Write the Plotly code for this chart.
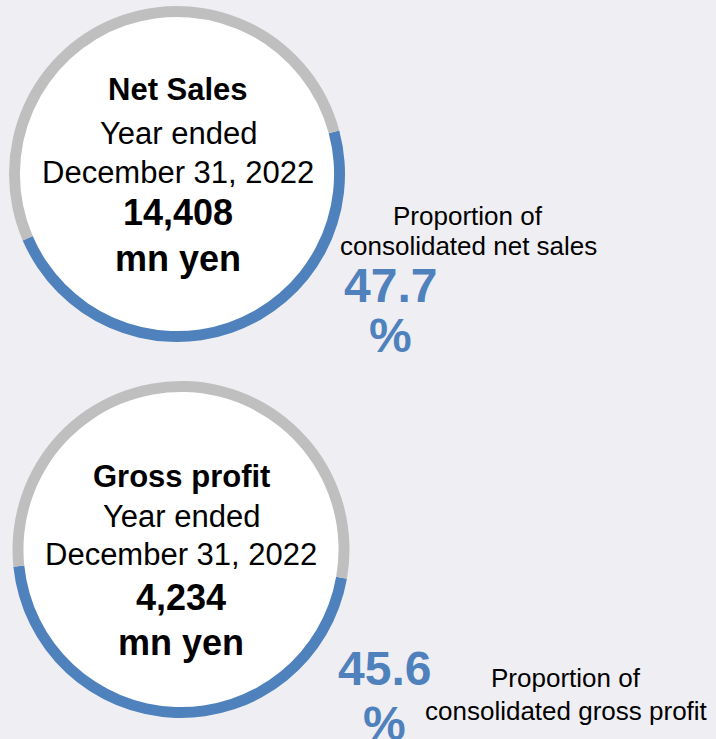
import plotly.graph_objects as go

# ---- data ----
metrics = ["Net Sales", "Gross profit"]
amounts_mn_yen = [14408, 4234]
share_pct = [47.7, 45.6]
share_captions = [["Proportion of", "consolidated net sales"],
                  ["Proportion of", "consolidated gross profit"]]
period_lines = ["Year ended", "December 31, 2022"]
unit_label = "mn yen"

# ---- style / layout ----
W, H = 716, 739
BG = "#EFEFF3"
BLUE = "#4F81BD"
GREY = "#BFBFBF"
FONT = "Liberation Sans, Arial, sans-serif"

# circle geometry in pixels (cx, cy, r) and ring start angle
circles = [(177, 174, 168, 75), (181, 549.5, 168.5, 100)]
# text placement per panel
inner_y = [[89, 133, 172, 212, 258], [476, 516, 554, 597, 642]]
inner_x = [178, 181]
pct_pos = [(390, 285, 335), (384, 668, 723)]
cap_pos = [(468, 216, 246), (566, 678, 711)]

fig = go.Figure()
shapes = []
annotations = []

for i, (cx, cy, r, rot) in enumerate(circles):
    fig.add_trace(go.Pie(
        values=[share_pct[i], 100 - share_pct[i]],
        labels=["share", "rest"],
        marker=dict(colors=[BLUE, GREY], line=dict(width=0)),
        hole=0.935, sort=False, direction="clockwise", rotation=rot,
        textinfo="none", hoverinfo="skip", showlegend=False,
        domain=dict(x=[(cx - r) / W, (cx + r) / W],
                    y=[(H - (cy + r)) / H, (H - (cy - r)) / H]),
    ))
    rw = r - 4
    shapes.append(dict(type="circle", xref="x", yref="y", layer="below",
                       x0=cx - rw, x1=cx + rw, y0=cy - rw, y1=cy + rw,
                       fillcolor="white", line=dict(width=0)))

    lines = [(metrics[i], 31, True), (period_lines[0], 31, False),
             (period_lines[1], 31, False),
             (f"{amounts_mn_yen[i]:,}", 36, True), (unit_label, 36, True)]
    for (txt, sz, bold), yy in zip(lines, inner_y[i]):
        annotations.append(dict(
            x=inner_x[i], y=yy, xref="x", yref="y", showarrow=False,
            text=f"<b>{txt}</b>" if bold else txt,
            font=dict(family=FONT, size=sz, color="black"),
            xanchor="center", yanchor="middle"))

    px, py1, py2 = pct_pos[i]
    annotations.append(dict(x=px, y=py1, xref="x", yref="y", showarrow=False,
                            text=f"<b>{share_pct[i]}</b>",
                            font=dict(family=FONT, size=48, color=BLUE),
                            xanchor="center", yanchor="middle"))
    annotations.append(dict(x=px, y=py2, xref="x", yref="y", showarrow=False,
                            text="<b>%</b>",
                            font=dict(family=FONT, size=48, color=BLUE),
                            xanchor="center", yanchor="middle"))
    qx, qy1, qy2 = cap_pos[i]
    for txt, yy in zip(share_captions[i], (qy1, qy2)):
        annotations.append(dict(x=qx, y=yy, xref="x", yref="y", showarrow=False,
                                text=txt,
                                font=dict(family=FONT, size=26, color="black"),
                                xanchor="center", yanchor="middle"))

fig.update_layout(
    width=W, height=H, margin=dict(l=0, r=0, t=0, b=0),
    paper_bgcolor=BG, plot_bgcolor=BG,
    xaxis=dict(range=[0, W], visible=False, fixedrange=True),
    yaxis=dict(range=[H, 0], visible=False, fixedrange=True),
    shapes=shapes, annotations=annotations,
)

fig.write_html(
    "out.html",
    config={"displayModeBar": False},
    post_script="document.body.style.margin='0';"
                "document.body.style.overflow='hidden';"
                "document.body.style.background='" + BG + "';",
)
